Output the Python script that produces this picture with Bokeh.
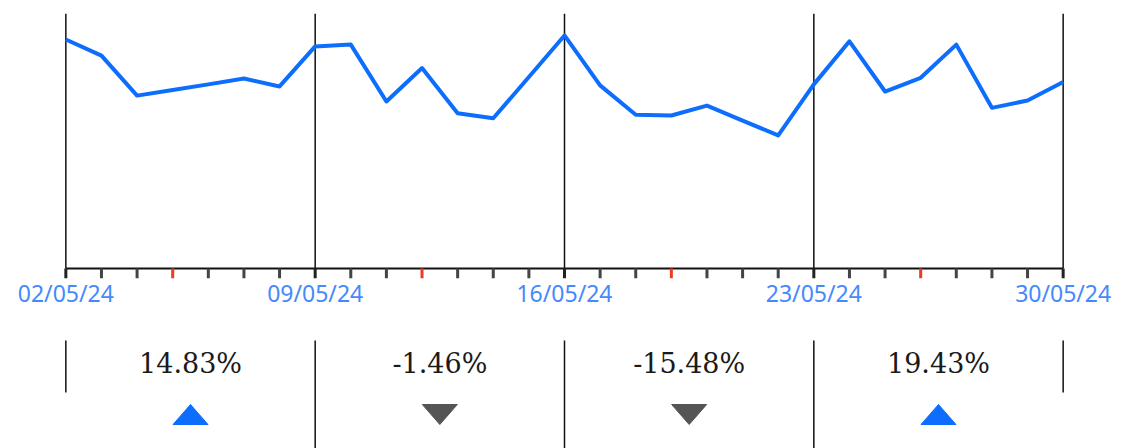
from datetime import datetime, timedelta
import pandas as pd
from bokeh.plotting import figure
from bokeh.layouts import column
from bokeh.models import Range1d, FixedTicker, DatetimeTickFormatter
from bokeh.core.properties import value
from bokeh.embed import file_html
from bokeh.resources import INLINE

# ---- data ----
start_date = "2024-05-02"
end_date = "2024-05-30"
series_values = [89.8, 83.5, 67.8, 70.0, 72.2, 74.5, 71.4, 87.1, 87.8, 65.5,
                 78.6, 60.9, 58.9, 75.1, 91.4, 71.8, 60.3, 60.0, 63.9, 58.0,
                 52.2, 72.2, 89.1, 69.4, 74.8, 87.8, 63.0, 65.9, 73.1]
week_dates = ["2024-05-02", "2024-05-09", "2024-05-16", "2024-05-23", "2024-05-30"]
pct_values = [14.83, -1.46, -15.48, 19.43]
pct_labels = ["14.83%", "-1.46%", "-15.48%", "19.43%"]

# ---- styles ----
BLUE = "#0d6efd"
LABEL_BLUE = "#4589fd"
GREY_TRI = "#555555"
RED = "#f03c1e"
W = 1124
PX_PER_UNIT = 2.55
TICK_LEN = 10 / PX_PER_UNIT
PAD = timedelta(hours=3.6)

days = list(pd.date_range(start_date, end_date).to_pydatetime())
weeks = [datetime.fromisoformat(d) for d in week_dates]
x_range = Range1d(days[0] - PAD, days[-1] + PAD)

# ---- top chart ----
p = figure(width=W, height=328, x_axis_type="datetime", x_range=x_range,
           y_range=Range1d(-TICK_LEN, 100), output_backend="svg",
           toolbar_location=None, y_axis_location=None,
           min_border_left=60, min_border_right=56, min_border_top=13,
           min_border_bottom=50)
p.outline_line_color = None
p.grid.visible = False
p.background_fill_color = "white"

# week separators
p.segment(x0=weeks, y0=[0] * len(weeks), x1=weeks, y1=[100] * len(weeks),
          line_color="#111111", line_width=1.5)
# axis line
p.segment(x0=[days[0]], y0=[0], x1=[days[-1]], y1=[0], line_color="#111111", line_width=2)
# daily ticks, Sundays in red
tick_colors = [RED if d.weekday() == 6 else ("#222222" if d in weeks else "#444444") for d in days]
p.segment(x0=days, y0=[0] * len(days), x1=days, y1=[-TICK_LEN] * len(days),
          line_color=tick_colors, line_width=3)
# data line
p.line(days, series_values, line_color=BLUE, line_width=4, line_join="round")

ax = p.xaxis[0]
ax.ticker = FixedTicker(ticks=[w.timestamp() * 1000 for w in weeks])
fmt = "%d/%m/%y"
ax.formatter = DatetimeTickFormatter(microseconds=fmt, milliseconds=fmt, seconds=fmt,
                                     minsec=fmt, minutes=fmt, hourmin=fmt, hours=fmt,
                                     days=fmt, months=fmt, years=fmt)
ax.axis_line_color = None
ax.major_tick_line_color = None
ax.minor_tick_line_color = None
ax.major_tick_out = 0
ax.major_tick_in = 0
ax.minor_tick_out = 0
ax.minor_tick_in = 0
ax.major_label_standoff = -2
ax.major_label_text_font = "Noto Sans"
ax.major_label_text_font_size = "23px"
ax.major_label_text_color = LABEL_BLUE

# ---- bottom summary ----
b = figure(width=W, height=120, x_axis_type="datetime", x_range=x_range,
           y_range=Range1d(0, 120), output_backend="svg", toolbar_location=None,
           x_axis_location=None, y_axis_location=None,
           min_border_left=60, min_border_right=56, min_border_top=0,
           min_border_bottom=0)
b.outline_line_color = None
b.grid.visible = False

sep_bottom = [56 if i in (0, len(weeks) - 1) else 0 for i in range(len(weeks))]
b.segment(x0=weeks, y0=[108] * len(weeks), x1=weeks, y1=sep_bottom,
          line_color="#111111", line_width=1.5)

mids = [weeks[i] + (weeks[i + 1] - weeks[i]) / 2 for i in range(len(weeks) - 1)]
b.text(x=mids, y=[85] * len(mids), text=pct_labels, text_align="center",
       text_baseline="middle", text_font=value("DejaVu Serif"),
       text_font_size="27px", text_color="#1a1a1a")

half = timedelta(days=17.5 / 35.62)
xs, ys, cols = [], [], []
for m, v in zip(mids, pct_values):
    xs.append([m - half, m + half, m])
    if v >= 0:
        ys.append([24, 24, 44]); cols.append(BLUE)
    else:
        ys.append([44, 44, 24]); cols.append(GREY_TRI)
b.patches(xs, ys, fill_color=cols, line_color=cols, line_width=1)

layout = column(p, b, spacing=0)
open("out.html", "w").write(file_html(layout, INLINE))
